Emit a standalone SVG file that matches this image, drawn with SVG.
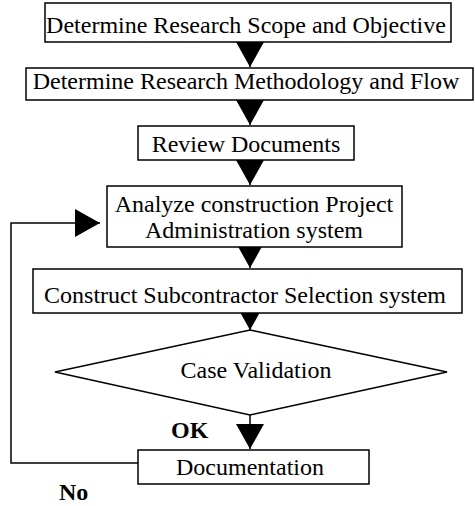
<svg xmlns="http://www.w3.org/2000/svg" width="475" height="506" viewBox="0 0 475 506">
<style>
.box{fill:#fff;stroke:#000;stroke-width:1.5}
.t{font-family:"Liberation Serif","Times New Roman",serif;font-size:24px;fill:#000;text-anchor:middle}
.b{font-family:"Liberation Serif","Times New Roman",serif;font-size:24px;font-weight:bold;fill:#000}
.c{fill:none;stroke:#000;stroke-width:1.5}
</style>
<defs>
<marker id="ah" markerUnits="userSpaceOnUse" markerWidth="30" markerHeight="30" refX="25" refY="14" orient="auto">
<path d="M0,0 L25,14 L0,28 Z" fill="#000"/>
</marker>
</defs>
<rect width="475" height="506" fill="#fff"/>
<g id="connectors">
<line class="c" x1="250" y1="42" x2="250" y2="67" marker-end="url(#ah)"/>
<line class="c" x1="250" y1="100" x2="250" y2="125" marker-end="url(#ah)"/>
<line class="c" x1="250" y1="160" x2="250" y2="185" marker-end="url(#ah)"/>
<line class="c" x1="250" y1="247" x2="250" y2="268" marker-end="url(#ah)"/>
<line class="c" x1="250" y1="313" x2="250" y2="330" marker-end="url(#ah)"/>
<line class="c" x1="250" y1="415" x2="250" y2="449" marker-end="url(#ah)"/>
<polyline class="c" points="138,463 11,463 11,223 100,223" marker-end="url(#ah)"/>
</g>
<g id="n1"><rect class="box" x="45" y="3" width="406" height="39"/><text class="t" x="246" y="33">Determine Research Scope and Objective</text></g>
<g id="n2"><rect class="box" x="26" y="68" width="447" height="32"/><text class="t" x="246" y="89">Determine Research Methodology and Flow</text></g>
<g id="n3"><rect class="box" x="138" y="126" width="216" height="34"/><text class="t" x="246" y="152">Review Documents</text></g>
<g id="n4"><rect class="box" x="107" y="186" width="295" height="61"/><text class="t" x="254" y="212">Analyze construction Project</text><text class="t" x="254" y="238">Administration system</text></g>
<g id="n5"><rect class="box" x="33" y="269" width="429" height="44"/><text class="t" x="245" y="303">Construct Subcontractor Selection system</text></g>
<g id="n6"><polygon class="box" points="250,330 447,372 250,415 55,372"/><text class="t" x="256" y="378">Case Validation</text></g>
<g id="n7"><rect class="box" x="138" y="450" width="231" height="34"/><text class="t" x="250" y="475">Documentation</text></g>
<text class="b" x="171" y="438">OK</text>
<text class="b" x="59" y="500">No</text>
</svg>
